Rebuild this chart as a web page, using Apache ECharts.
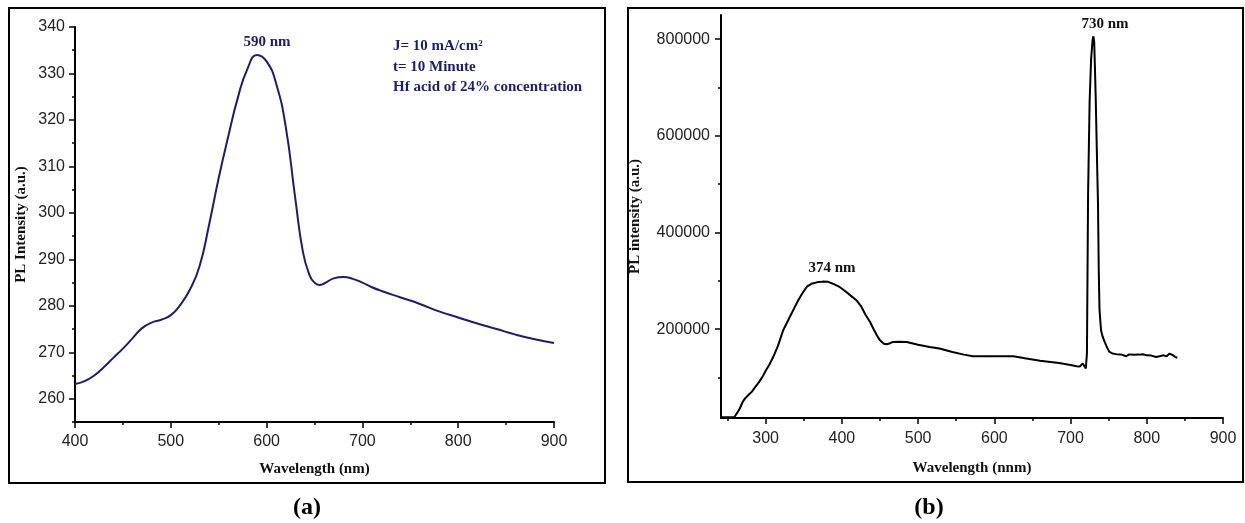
<!DOCTYPE html>
<html>
<head>
<meta charset="utf-8">
<script src="https://cdn.jsdelivr.net/npm/echarts@6/dist/echarts.min.js"></script>
<style>html,body{margin:0;padding:0;background:#fff;}#c{width:1245px;height:523px;}</style>
</head>
<body>
<div id="c"></div>
<script>
// Panel (a): wavelength (nm) vs PL intensity (a.u.)
const wavelengthA = [400,410,420,430,440,450,460,470,480,490,500,510,520,530,540,550,560,570,580,590,600,610,620,630,638,645,650,655,660,670,680,690,700,710,720,740,760,780,800,820,840,860,880,900];
const intensityA  = [263.2,263.8,265,266.8,268.8,270.8,273,275.2,276.4,277,278,280.2,283.5,288.5,297.5,307.5,316.5,324.8,331,334,332.6,327.8,318.5,303,291.5,286.5,285,284.5,284.8,285.9,286.2,285.8,285,284,283.2,281.8,280.4,278.8,277.5,276.2,275,273.8,272.8,272];

// Panel (b): wavelength (nm) vs PL intensity (a.u.)
const wavelengthB = [242,250,259,263,266,270,273,278,282,287,291,296,300,305,310,316,323,330,336,342,348,354,360,367,375,382,390,397,405,412,419,425,431,437,442,446,450,455,459,463,467,475,485,500,515,528,545,560,572,590,610,625,640,660,685,700,708,712,716,718,720,721.5,723,725,727,729,730,731,732,733,735,736,737,738,740,742,745,748,751,755,760,766,773,777,783,790,795,800,806,812,818,822,826,830,834,838,840];
const intensityB  = [18000,18000,18500,28000,36000,50000,57000,65000,71000,82000,90000,102000,114000,127000,143000,165000,198000,220000,239000,258000,274000,288000,294000,297000,298500,298000,293000,287500,278000,269000,260000,248000,230000,215000,199000,187000,177000,170000,168900,171000,173700,174000,173500,168000,163400,160000,153000,147500,144100,144000,144000,144000,140000,135000,130000,126000,123500,123000,129000,124000,118700,150000,480000,670000,760000,800000,806000,795000,740000,680000,530000,460000,320000,240000,198000,185000,173000,162000,153000,150000,148500,148000,144100,148000,147000,147500,148300,146000,145500,142700,144500,146000,144000,149700,146500,142000,141000];

// Tick values
const yTicksA = [260,270,280,290,300,310,320,330,340];
const yMinorA = [255,265,275,285,295,305,315,325,335];
const xTicksB = [300,400,500,600,700,800,900];
const xMinorB = [250,350,450,550,650,750,850];
const yTicksB = [200000,400000,600000,800000];
const yMinorB = [100000,300000,500000,700000];

const chart = echarts.init(document.getElementById('c'), null, {renderer:'canvas'});
const AX = '#000';
const labelFont = {fontFamily:'Liberation Sans, Arial, sans-serif', fontSize:16, color:'#222'};
const nameFont = {fontFamily:'Liberation Serif, Times New Roman, serif', fontWeight:'bold', fontSize:15, color:'#111'};
const navy = '#1c1c78';

function axisBase(extra){
  return Object.assign({
    axisLine:{show:true, onZero:false, lineStyle:{color:AX, width:2}},
    splitLine:{show:false},
    axisTick:{show:true, inside:false, length:6, lineStyle:{color:AX, width:1.5}},
  }, extra);
}

chart.setOption({
  animation:false,
  backgroundColor:'#fff',
  grid:[
    {left:75, top:27, width:479, height:395},
    {left:721, top:15, width:502, height:403}
  ],
  xAxis:[
    axisBase({gridIndex:0, type:'value', position:'bottom', min:400, max:900, interval:100,
      name:'Wavelength (nm)', nameLocation:'middle', nameGap:40, nameTextStyle:nameFont,
      axisLabel:Object.assign({margin:12}, labelFont),
      minorTick:{show:true, splitNumber:2, length:3, lineStyle:{color:AX, width:1.5}}
    }),
    axisBase({gridIndex:1, type:'value', position:'bottom', min:241.4, max:900,
      name:'Wavelength (nnm)', nameLocation:'middle', nameGap:43, nameTextStyle:nameFont,
      axisLabel:Object.assign({margin:13, customValues:xTicksB}, labelFont),
      axisTick:{show:true, inside:false, length:6, customValues:xTicksB, lineStyle:{color:AX, width:1.5}}
    }),
    axisBase({gridIndex:1, type:'value', position:'bottom', min:241.4, max:900,
      axisLine:{show:false},
      axisLabel:{show:false, customValues:xMinorB},
      axisTick:{show:true, inside:false, length:3, customValues:xMinorB, lineStyle:{color:AX, width:1.5}}
    })
  ],
  yAxis:[
    axisBase({gridIndex:0, type:'value', position:'left', min:255, max:340,
      name:'PL Intensity (a.u.)', nameLocation:'middle', nameGap:46, nameTextStyle:nameFont,
      axisLabel:Object.assign({margin:10, customValues:yTicksA}, labelFont),
      axisTick:{show:true, inside:false, length:6, customValues:yTicksA, lineStyle:{color:AX, width:1.5}}
    }),
    axisBase({gridIndex:0, type:'value', position:'left', min:255, max:340,
      axisLine:{show:false},
      axisLabel:{show:false, customValues:yMinorA},
      axisTick:{show:true, inside:false, length:3, customValues:yMinorA, lineStyle:{color:AX, width:1.5}}
    }),
    axisBase({gridIndex:1, type:'value', position:'left', min:16400, max:850000,
      name:'PL intensity (a.u.)', nameLocation:'middle', nameGap:78, nameTextStyle:nameFont,
      axisLabel:Object.assign({margin:11, customValues:yTicksB, formatter:v=>String(v)}, labelFont),
      axisTick:{show:true, inside:false, length:6, customValues:yTicksB, lineStyle:{color:AX, width:1.5}}
    }),
    axisBase({gridIndex:1, type:'value', position:'left', min:16400, max:850000,
      axisLine:{show:false},
      axisLabel:{show:false, customValues:yMinorB},
      axisTick:{show:true, inside:false, length:3, customValues:yMinorB, lineStyle:{color:AX, width:1.5}}
    })
  ],
  series:[
    {type:'line', xAxisIndex:0, yAxisIndex:0, data:wavelengthA.map((x,i)=>[x,intensityA[i]]),
     smooth:0.5, showSymbol:false, lineStyle:{color:navy, width:2}},
    {type:'line', xAxisIndex:1, yAxisIndex:2, data:wavelengthB.map((x,i)=>[x,intensityB[i]]),
     smooth:false, showSymbol:false, lineStyle:{color:'#000', width:2}}
  ],
  graphic:[
    {type:'rect', shape:{x:9, y:8, width:596, height:475}, style:{fill:'none', stroke:'#000', lineWidth:2}, silent:true},
    {type:'rect', shape:{x:628, y:8, width:615, height:474}, style:{fill:'none', stroke:'#000', lineWidth:2}, silent:true},
    {type:'text', x:267, y:42, style:{text:'590 nm', fill:navy, font:'bold 15px "Liberation Serif", serif', textAlign:'center', textVerticalAlign:'middle'}},
    {type:'text', x:393, y:46, style:{text:'J= 10 mA/cm²', fill:navy, font:'bold 15px "Liberation Serif", serif', textAlign:'left', textVerticalAlign:'middle'}},
    {type:'text', x:393, y:67, style:{text:'t= 10 Minute', fill:navy, font:'bold 15px "Liberation Serif", serif', textAlign:'left', textVerticalAlign:'middle'}},
    {type:'text', x:393, y:87, style:{text:'Hf acid of 24% concentration', fill:navy, font:'bold 15px "Liberation Serif", serif', textAlign:'left', textVerticalAlign:'middle'}},
    {type:'text', x:1105, y:24, style:{text:'730 nm', fill:'#111', font:'bold 15px "Liberation Serif", serif', textAlign:'center', textVerticalAlign:'middle'}},
    {type:'text', x:832, y:268, style:{text:'374 nm', fill:'#111', font:'bold 15px "Liberation Serif", serif', textAlign:'center', textVerticalAlign:'middle'}},
    {type:'text', x:307, y:508, style:{text:'(a)', fill:'#000', font:'bold 24px "Liberation Serif", serif', textAlign:'center', textVerticalAlign:'middle'}},
    {type:'text', x:929, y:508, style:{text:'(b)', fill:'#000', font:'bold 24px "Liberation Serif", serif', textAlign:'center', textVerticalAlign:'middle'}}
  ]
});
</script>
</body>
</html>
